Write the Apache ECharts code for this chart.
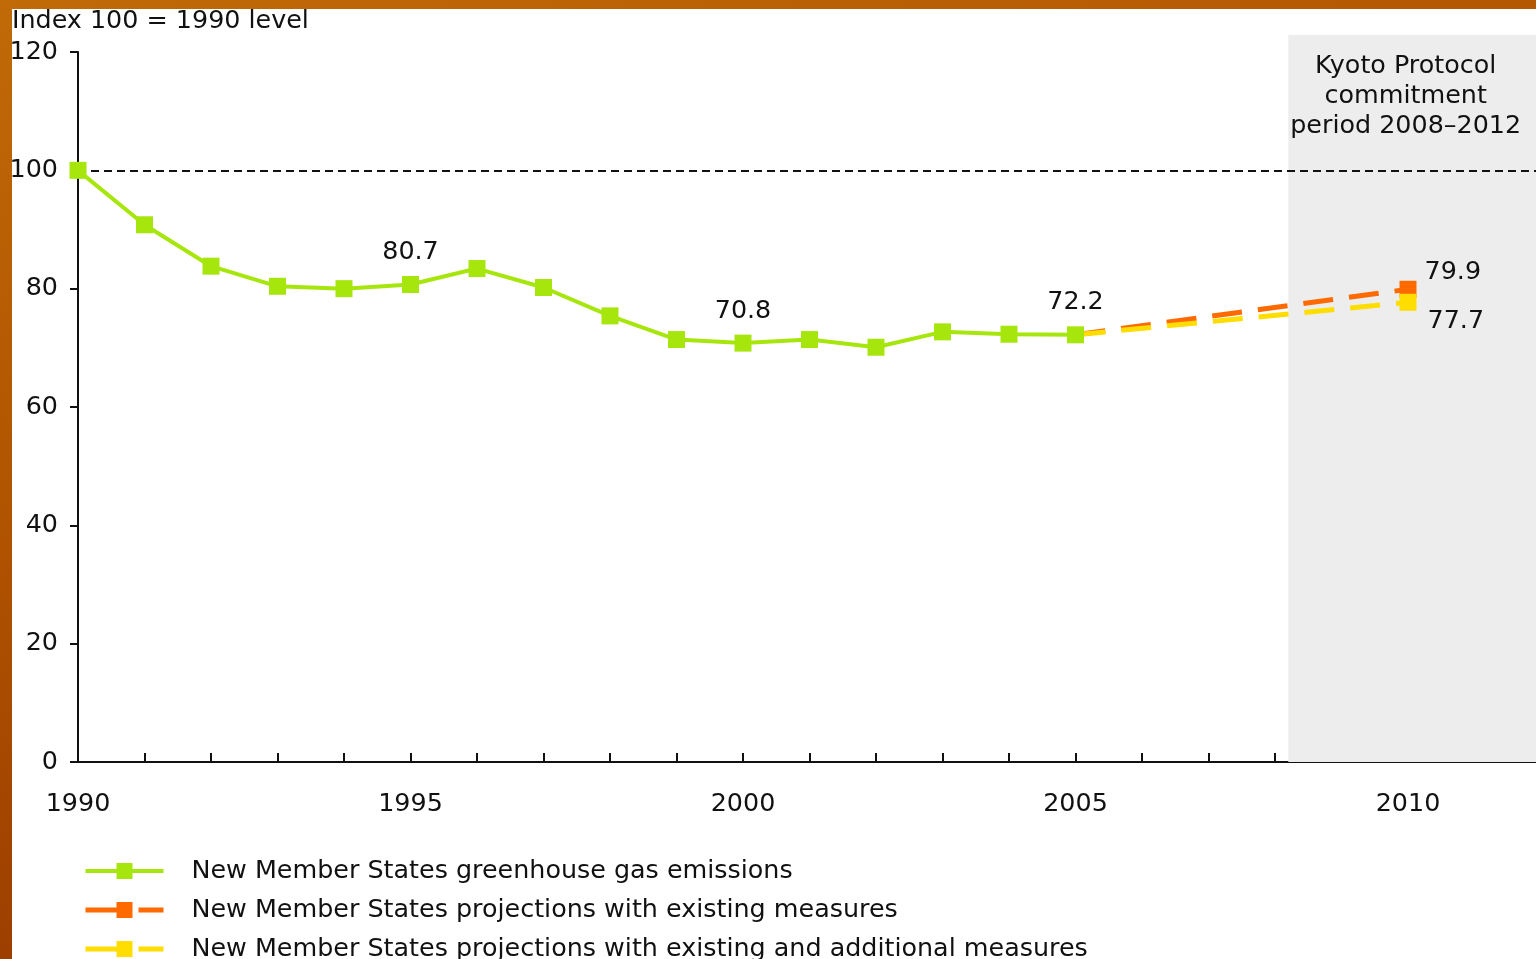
<!DOCTYPE html>
<html>
<head>
<meta charset="utf-8">
<script src="https://cdn.jsdelivr.net/npm/echarts@6/dist/echarts.min.js"></script>
<style>
html,body{margin:0;padding:0;width:1536px;height:959px;overflow:hidden;}
body{background:linear-gradient(165deg,#c06a08 0%,#b05200 40%,#9a3c00 75%,#a84a05 100%);position:relative;}
#chart{position:absolute;left:12px;top:9px;width:1524px;height:950px;background:#fff;}
</style>
</head>
<body>
<div id="chart"></div>
<script>
const emissionYears = [1990,1991,1992,1993,1994,1995,1996,1997,1998,1999,2000,2001,2002,2003,2004,2005];
const emissions = [100,90.8,83.8,80.4,80.0,80.7,83.4,80.2,75.4,71.4,70.8,71.4,70.1,72.7,72.3,72.2];
const projYears = [2005,2010];
const projExisting = [72.2,79.9];
const projAdditional = [72.2,77.7];
const labelledYears = [1995,2000,2005];
const yTicks = [0,20,40,60,80,100,120];
const xLabelYears = [1990,1995,2000,2005,2010];
const kyotoStart = 2008.2, kyotoEnd = 2012;

const FONT = 'DejaVu Sans';
const FS = 25.4;
const TXT = '#111';
const GREEN = '#a6e60c', ORANGE = '#ff6a00', YELLOW = '#ffdd00';

const chart = echarts.init(document.getElementById('chart'));

const greenData = emissionYears.map((y,i)=>{
  const d = {value:[y, emissions[i]]};
  if (labelledYears.includes(y)) {
    d.label = {show:true, position:'top', distance:11, formatter: p => p.value[1].toFixed(1)};
  }
  return d;
});
function projData(vals, offset){
  return projYears.map((y,i)=>{
    const d = {value:[y, vals[i]]};
    if (i === 0) { d.symbol = 'none'; }
    else { d.label = {show:true, position:'right', distance:8, offset:offset, formatter: p => p.value[1].toFixed(1)}; }
    return d;
  });
}

const S1 = 'New Member States greenhouse gas emissions';
const S2 = 'New Member States projections with existing measures';
const S3 = 'New Member States projections with existing and additional measures';

chart.setOption({
  animation:false,
  textStyle:{fontFamily:FONT, color:TXT},
  title:{text:'Index 100 = 1990 level', left:0, top:0, padding:0,
    textStyle:{fontFamily:FONT, fontSize:FS, fontWeight:'normal', color:TXT, lineHeight:24}},
  grid:[
    {left:66, top:43, bottom:197, width:1463, containLabel:false, outerBoundsMode:'none'},
    {left:66, top:26, bottom:197, width:1463, containLabel:false, outerBoundsMode:'none'}
  ],
  xAxis:[
    {type:'value', gridIndex:0, min:1990, max:2012, interval:1,
      axisLine:{show:true, lineStyle:{color:'#111', width:2}},
      axisTick:{show:true, inside:true, length:9, lineStyle:{color:'#111', width:2}},
      splitLine:{show:false},
      axisLabel:{margin:30, fontSize:FS, color:TXT, fontFamily:FONT, showMaxLabel:false,
        formatter: v => xLabelYears.includes(v) ? String(v) : ''}},
    {type:'value', gridIndex:1, min:1990, max:2012, show:false}
  ],
  yAxis:[
    {type:'value', gridIndex:0, min:0, max:120, interval:20,
      axisLine:{show:true, lineStyle:{color:'#111', width:2}},
      axisTick:{show:true, length:8, lineStyle:{color:'#111', width:2}},
      splitLine:{show:false},
      axisLabel:{margin:20, fontSize:FS, color:TXT, fontFamily:FONT,
        formatter: v => yTicks.includes(v) ? String(v) : ''}},
    {type:'value', gridIndex:1, min:0, max:1, show:false}
  ],
  legend:{
    orient:'vertical', left:66, top:844, height:200, itemWidth:78, itemHeight:20, itemGap:13,
    lineStyle:{width:4},
    textStyle:{fontFamily:FONT, fontSize:FS, color:TXT, lineHeight:26, padding:[0,0,0,23]},
    data:[
      {name:S1},
      {name:S2, lineStyle:{width:5, type:[34,19]}},
      {name:S3, lineStyle:{width:5, type:[34,19]}}
    ]
  },
  series:[
    {
      name:'band', type:'line', xAxisIndex:1, yAxisIndex:1, data:[[1990,0]], showSymbol:false, symbol:'none',
      lineStyle:{opacity:0}, silent:true, z:0,
      markArea:{silent:true, itemStyle:{color:'#ededed'},
        label:{show:true, position:'insideTop', distance:16, offset:[-9,0], fontFamily:FONT, fontSize:FS, color:TXT, lineHeight:30, align:'center',
          formatter:'Kyoto Protocol\ncommitment\nperiod 2008–2012'},
        data:[[{xAxis:kyotoStart},{xAxis:kyotoEnd}]]}
    },
    {
      name:S2, type:'line',
      data:projData(projExisting,[0,-17]), symbol:'rect', symbolSize:17, showSymbol:true,
      color:ORANGE, itemStyle:{color:ORANGE},
      lineStyle:{color:ORANGE, width:5, type:[30,16]},
      label:{fontFamily:FONT, fontSize:FS, color:TXT}, z:3
    },
    {
      name:S3, type:'line',
      data:projData(projAdditional,[3,19]), symbol:'rect', symbolSize:17, showSymbol:true,
      color:YELLOW, itemStyle:{color:YELLOW},
      lineStyle:{color:YELLOW, width:5, type:[30,16]},
      label:{fontFamily:FONT, fontSize:FS, color:TXT}, z:4
    },
    {
      name:S1, type:'line',
      data:greenData, symbol:'rect', symbolSize:17, showSymbol:true,
      color:GREEN, itemStyle:{color:GREEN},
      lineStyle:{color:GREEN, width:4},
      label:{fontFamily:FONT, fontSize:FS, color:TXT}, z:5,
      markLine:{silent:true, symbol:'none', label:{show:false},
        lineStyle:{color:'#111', type:[8,5], width:2},
        data:[{yAxis:100}]}
    }
  ]
});
</script>
</body>
</html>
